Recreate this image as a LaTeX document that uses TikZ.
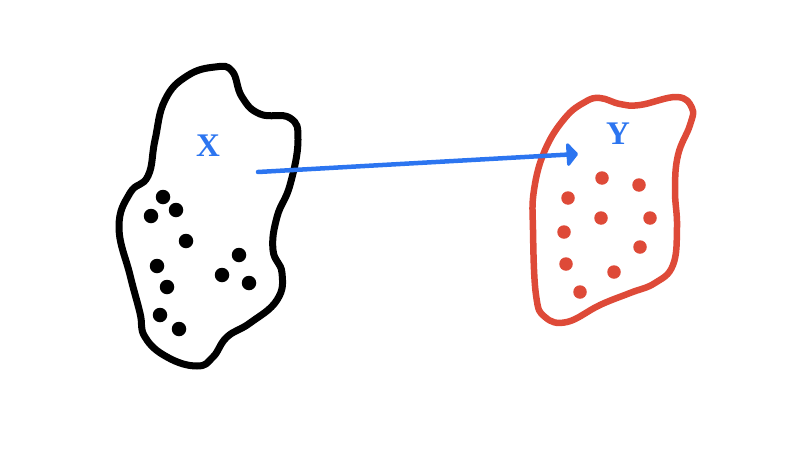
\documentclass[tikz,border=0pt]{standalone}
\usepackage{fontspec}
\setmainfont{Liberation Serif}
\usetikzlibrary{arrows.meta}
\definecolor{inkblue}{RGB}{44,117,240}
\definecolor{inkred}{RGB}{222,74,56}
\tikzset{
  blobline/.style={line width=7pt, line join=round},
  dotmark/.style={circle, inner sep=0pt, minimum size=14.5pt},
  setlabel/.style={text=inkblue, font=\fontsize{33}{33}\selectfont\bfseries, inner sep=0pt},
  mapline/.style={draw=inkblue, line width=4.5pt, line cap=round,
     -{Triangle[length=12pt,width=27pt,round]}}
}
\begin{document}
\begin{tikzpicture}[x=1pt,y=-1pt]
\useasboundingbox (0,0) rectangle (798,450);
% black blob X
\draw[blobline, black] plot[smooth cycle, tension=0.75] coordinates {
 (215,67) (232,71) (242,97) (260,114) (290,118) (298,140)
 (290,185) (277,217) (273,250) (282,273) (277,300) (250,323) (227,337) (213,357)
 (197,366) (167,357) (145,337) (140,313) (130,275) (119,227)
 (130,193) (148,176) (155,140) (165,100) (187,76)};
% red blob Y
\draw[blobline, inkred, line width=6.5pt] plot[smooth cycle, tension=0.7] coordinates {
 (600,98) (620,104) (640,105) (677,97) (692,108) (690,125)
 (678,155) (675,190) (677,227) (673,265) (655,283) (630,293)
 (600,305) (567,322) (545,317) (536,295) (533,230)
 (534,190) (545,150) (565,118) (585,102)};
% black dots
\foreach \i/\p in {1/{163,197},2/{151,216},3/{176,210},4/{186,241},5/{157,266},
  6/{167,287},7/{239,255},8/{222,275},9/{249,283},10/{160,315},11/{179,329}}
  \node[dotmark, fill=black] (bx\i) at (\p) {};
% red dots
\foreach \i/\p in {1/{602,178},2/{639,185},3/{568,198},4/{601,218},5/{650,218},
  6/{564,232},7/{640,247},8/{566,264},9/{614,272},10/{580,292}}
  \node[dotmark, fill=inkred, minimum size=13.5pt] (ry\i) at (\p) {};
% labels
\node[setlabel] (labx) at (208,146) {X};
\node[setlabel] (laby) at (618,134) {Y};
% arrow
\coordinate (arrowstart) at (258,172);
\coordinate (arrowend) at (578,154);
\draw[mapline] (arrowstart) -- (arrowend);
\end{tikzpicture}
\end{document}
